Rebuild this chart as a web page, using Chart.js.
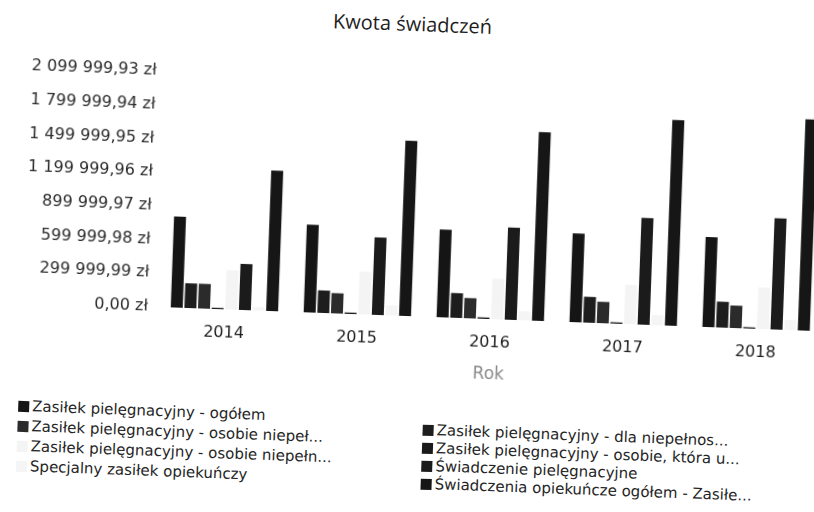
<!DOCTYPE html>
<html lang="pl">
<head>
<meta charset="utf-8">
<title>Kwota świadczeń</title>
<script src="https://cdn.jsdelivr.net/npm/chart.js@4.4.1/dist/chart.umd.min.js"></script>
<style>
  html, body { margin: 0; padding: 0; background: #fff; overflow: hidden; }
  #sheet {
    position: absolute; left: 0; top: 0; width: 830px; height: 512px;
    transform: rotate(2.1deg); transform-origin: 407px 256px;
    font-family: "DejaVu Sans", "Open Sans", sans-serif; color: #222;
  }
  #title {
    position: absolute; left: 204px; width: 400px; top: 10px;
    text-align: center; font-family: "Open Sans", sans-serif; font-size: 20px; color: #1e1e1e;
  }
  #box { position: absolute; left: 0; top: 0; width: 830px; height: 400px; }
  .legcol { position: absolute; font-size: 15px; color: #252525; }
  .legitem { display: flex; align-items: center; white-space: nowrap; }
  .legitem span.sw { width: 11px; height: 11px; margin-right: 3px; flex: none; }
</style>
</head>
<body>
<div id="sheet">
  <div id="title">Kwota świadczeń</div>
  <div id="box"><canvas id="chart" width="830" height="400"></canvas></div>
  <div class="legcol" id="legLeft" style="left:24px; top:410px;"></div>
  <div class="legcol" id="legRight" style="left:429px; top:420px;"></div>
</div>
<script>
// Years on the category axis
const years = ['2014', '2015', '2016', '2017', '2018'];

// Amounts paid out per year (zł)
const zasilekOgolem          = [810000, 780000, 780000, 790000, 800000];
const zasilekDlaDziecka      = [220000, 200000, 220000, 230000, 230000];
const zasilekNiepelnA        = [220000, 180000, 180000, 190000, 200000];
const zasilekPowyzej75       = [11000, 12000, 12500, 12000, 11500];
const zasilekNiepelnB        = [350000, 380000, 360000, 350000, 370000];
const swiadczeniePiel        = [410000, 690000, 820000, 950000, 990000];
const specjalnyZasilek       = [30000, 90000, 80000, 90000, 90000];
const swiadczeniaOgolem      = [1250000, 1560000, 1680000, 1830000, 1880000];

// Value axis ticks
const yTicks = [0, 299999.99, 599999.98, 899999.97, 1199999.96, 1499999.95, 1799999.94, 2099999.93];

// Series names as shown in the legend
const seriesNames = [
  'Zasiłek pielęgnacyjny - ogółem',
  'Zasiłek pielęgnacyjny - dla niepełnos...',
  'Zasiłek pielęgnacyjny - osobie niepeł...',
  'Zasiłek pielęgnacyjny - osobie, która u...',
  'Zasiłek pielęgnacyjny -  osobie niepełn...',
  'Świadczenie pielęgnacyjne',
  'Specjalny zasiłek opiekuńczy',
  'Świadczenia opiekuńcze ogółem - Zasiłe...'
];
const seriesValues = [
  zasilekOgolem, zasilekDlaDziecka, zasilekNiepelnA, zasilekPowyzej75,
  zasilekNiepelnB, swiadczeniePiel, specjalnyZasilek, swiadczeniaOgolem
];
const seriesColors = ['#151515', '#1d1d1d', '#2b2b2b', '#1a1a1a', '#f4f4f4', '#1b1b1b', '#f5f5f5', '#161616'];

function formatZl(v) {
  const parts = v.toFixed(2).split('.');
  return parts[0].replace(/\B(?=(\d{3})+(?!\d))/g, ' ') + ',' + parts[1] + ' zł';
}

const datasets = seriesNames.map((name, i) => ({
  label: name,
  data: seriesValues[i],
  backgroundColor: seriesColors[i],
  borderWidth: 0,
  categoryPercentage: 0.82,
  barPercentage: 0.88
}));

const chart = new Chart(document.getElementById('chart'), {
  type: 'bar',
  data: { labels: years, datasets: datasets },
  options: {
    responsive: false,
    animation: false,
    layout: { padding: { top: 80, left: 0, right: 5, bottom: 0 } },
    plugins: {
      legend: { display: false },
      title: { display: false },
      tooltip: { enabled: false }
    },
    scales: {
      x: {
        grid: { display: false, drawTicks: false },
        border: { display: false },
        ticks: {
          padding: 14,
          color: '#1e1e1e',
          font: { family: '"DejaVu Sans", sans-serif', size: 16 }
        },
        title: {
          display: true,
          text: 'Rok',
          color: '#8a8a8a',
          padding: { top: 4, bottom: 18 },
          font: { family: '"DejaVu Sans", sans-serif', size: 17 }
        },
        afterFit: (scale) => { scale.height = 84; }
      },
      y: {
        min: 0,
        max: yTicks[yTicks.length - 1],
        grid: { display: false, drawTicks: false },
        border: { display: false },
        afterBuildTicks: (scale) => { scale.ticks = yTicks.map(v => ({ value: v })); },
        afterFit: (scale) => { scale.width = 160; },
        ticks: {
          padding: 10,
          color: '#2a2a2a',
          font: { family: '"DejaVu Sans", sans-serif', size: 16 },
          callback: (v) => formatZl(v)
        }
      }
    }
  }
});

// Two-column legend built from the chart's own datasets (row-wise order)
function buildLegend(target, indices, rowHeight) {
  const col = document.getElementById(target);
  indices.forEach(i => {
    const ds = chart.data.datasets[i];
    const row = document.createElement('div');
    row.className = 'legitem';
    row.style.height = rowHeight + 'px';
    const sw = document.createElement('span');
    sw.className = 'sw';
    sw.style.background = ds.backgroundColor;
    const tx = document.createElement('span');
    tx.textContent = ds.label;
    row.appendChild(sw);
    row.appendChild(tx);
    col.appendChild(row);
  });
}
buildLegend('legLeft', [0, 2, 4, 6], 20);
buildLegend('legRight', [1, 3, 5, 7], 18);
</script>
</body>
</html>
